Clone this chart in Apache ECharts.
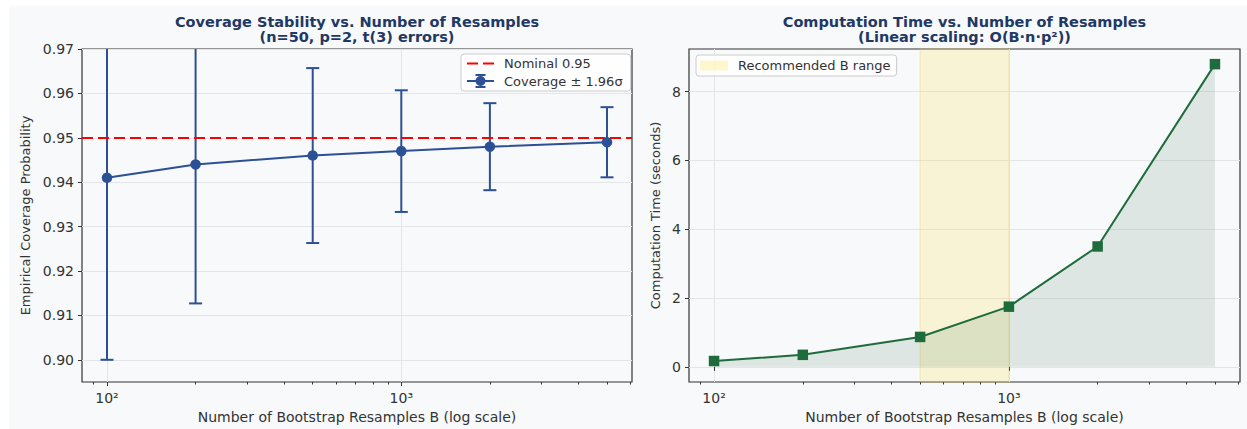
<!DOCTYPE html>
<html><head><meta charset="utf-8">
<script src="https://cdn.jsdelivr.net/npm/echarts@6/dist/echarts.min.js"></script>
<style>
html,body{margin:0;padding:0;background:#fff;width:1247px;height:429px;overflow:hidden}
#bg{position:absolute;left:9px;top:6px;width:1238px;height:423px;background:#f8f9fa}
#chart{position:absolute;left:0;top:0;width:1247px;height:429px}
</style></head><body><div id="bg"></div><div id="chart"></div>
<script>
// ---- data ----
const resamplesB = [100, 200, 500, 1000, 2000, 5000];
const coverage = [0.941, 0.944, 0.946, 0.947, 0.948, 0.949];
const ciHalfWidth = [0.041, 0.0313, 0.0197, 0.0137, 0.0098, 0.0079];
const compTime = [0.17, 0.35, 0.87, 1.75, 3.5, 8.8];
const nominalLevel = 0.95;
const recommendedRange = [500, 1000];
const xMajorTicks = [100, 1000];
const xMinorTicks = [90, 200, 300, 400, 500, 600, 700, 800, 900, 2000, 3000, 4000, 5000, 6000];
const coverageTicks = [0.90, 0.91, 0.92, 0.93, 0.94, 0.95, 0.96, 0.97];
const timeTicks = [0, 2, 4, 6, 8];
const coverageRange = [0.895, 0.97];
const timeRange = [-0.44, 9.24];

// ---- styles ----
const FONT = 'DejaVu Sans';
const BLUE = '#2c5096';
const GREEN = '#1e6b3c';
const RED = '#ff0000';
const TITLE = '#1f3864';
const TXT = '#333333';
const GRIDC = '#e4e5e7';
const SPINE = '#333333';

const lg = v => Math.log10(v);
const lgMin = lg(resamplesB[0]), lgMax = lg(resamplesB[resamplesB.length - 1]);
const pad = 0.05 * (lgMax - lgMin);
const xMin = lgMin - pad, xMax = lgMax + pad;
const SUP = {'2': '\u00b2', '3': '\u00b3', '4': '\u2074'};
const majorLog = xMajorTicks.map(lg);
const minorLog = xMinorTicks.map(lg);

// legend glyphs (dashed line; line + marker + error bar)
const ICON_DASH = 'path://M0,0h11v2h-11z M16,0h11v2h-11z';
const ICON_ERR = 'path://M0,6h27v2h-27z M12.5,0h2v14h-2z M8.5,0h10v2h-10z M8.5,12h10v2h-10z M8.5,7a5,5 0 1,1 10,0a5,5 0 1,1 -10,0z';

function majorX(gridIndex) {
  return {
    type: 'value', gridIndex, position: 'bottom', min: xMin, max: xMax,
    axisLine: {show: false},
    axisTick: {show: true, customValues: majorLog, length: 4, lineStyle: {color: SPINE, width: 1}},
    axisLabel: {customValues: majorLog, margin: 9, fontSize: 14, color: TXT, fontFamily: FONT,
      formatter: v => '10' + SUP[String(Math.round(v))]},
    splitLine: {show: true, lineStyle: {color: GRIDC, width: 1}},
    name: 'Number of Bootstrap Resamples B (log scale)', nameLocation: 'middle', nameGap: 28,
    nameTextStyle: {fontSize: 14, color: TXT, fontFamily: FONT}
  };
}
function minorX(gridIndex) {
  return {
    type: 'value', gridIndex, position: 'bottom', min: xMin, max: xMax,
    axisLine: {show: false},
    axisTick: {show: true, customValues: minorLog, length: 2.5, lineStyle: {color: SPINE, width: 1}},
    axisLabel: {show: false}, splitLine: {show: false}
  };
}
function yAx(gridIndex, range, ticks, fmt, name, gap) {
  return {
    type: 'value', gridIndex, min: range[0], max: range[1],
    axisLine: {show: false},
    axisTick: {show: true, customValues: ticks, length: 4, lineStyle: {color: SPINE, width: 1}},
    axisLabel: {customValues: ticks, formatter: fmt, margin: 8, fontSize: 14, color: TXT, fontFamily: FONT},
    splitLine: {show: true, lineStyle: {color: GRIDC, width: 1}},
    name, nameLocation: 'middle', nameGap: gap,
    nameTextStyle: {fontSize: 13, color: TXT, fontFamily: FONT}
  };
}

const covPts = resamplesB.map((b, i) => [lg(b), coverage[i]]);
const ciPts = resamplesB.map((b, i) => [lg(b), coverage[i] - ciHalfWidth[i], coverage[i] + ciHalfWidth[i]]);
const timePts = resamplesB.map((b, i) => [lg(b), compTime[i]]);

const option = {
  animation: false,
  textStyle: {fontFamily: FONT},
  grid: [
    {left: 82, top: 49, width: 550, height: 334, show: true, borderColor: SPINE, borderWidth: 1.2, backgroundColor: 'transparent'},
    {left: 689, top: 49, width: 551, height: 334, show: true, borderColor: SPINE, borderWidth: 1.2, backgroundColor: 'transparent'}
  ],
  xAxis: [majorX(0), minorX(0), majorX(1), minorX(1)],
  yAxis: [
    yAx(0, coverageRange, coverageTicks, v => Number(v).toFixed(2), 'Empirical Coverage Probability', 50),
    yAx(1, timeRange, timeTicks, v => String(Math.round(v)), 'Computation Time (seconds)', 27)
  ],
  graphic: [
    {type: 'text', x: 357, y: 22, style: {text: 'Coverage Stability vs. Number of Resamples', fill: TITLE, font: 'bold 14.5px "DejaVu Sans"', align: 'center', verticalAlign: 'middle'}},
    {type: 'text', x: 357, y: 37, style: {text: '(n=50, p=2, t(3) errors)', fill: TITLE, font: 'bold 14.5px "DejaVu Sans"', align: 'center', verticalAlign: 'middle'}},
    {type: 'text', x: 964.5, y: 22, style: {text: 'Computation Time vs. Number of Resamples', fill: TITLE, font: 'bold 14.5px "DejaVu Sans"', align: 'center', verticalAlign: 'middle'}},
    {type: 'text', x: 964.5, y: 37, style: {text: '(Linear scaling: O(B\u00b7n\u00b7p\u00b2))', fill: TITLE, font: 'bold 14.5px "DejaVu Sans"', align: 'center', verticalAlign: 'middle'}}
  ],
  legend: [
    {data: [{name: 'Nominal 0.95', icon: ICON_DASH}, {name: 'Coverage \u00b1 1.96\u03c3', icon: ICON_ERR}],
     left: 461, top: 54, orient: 'vertical', symbolKeepAspect: true,
     backgroundColor: 'rgba(255,255,255,0.85)', borderColor: '#cccccc', borderWidth: 1, borderRadius: 3,
     padding: [3, 8, 3, 6], itemGap: 4, itemWidth: 27, itemHeight: 14,
     textStyle: {fontSize: 13, color: TXT, fontFamily: FONT, padding: [0, 0, 0, 5]}},
    {data: ['Recommended B range'], left: 696, top: 55, orient: 'vertical', icon: 'rect',
     backgroundColor: 'rgba(255,255,255,0.85)', borderColor: '#cccccc', borderWidth: 1, borderRadius: 3,
     padding: [4, 6, 4, 4], itemWidth: 28, itemHeight: 10,
     textStyle: {fontSize: 13, color: TXT, fontFamily: FONT, padding: [0, 0, 0, 5]}}
  ],
  series: [
    {name: 'Nominal 0.95', type: 'line', xAxisIndex: 0, yAxisIndex: 0, data: [], symbol: 'none',
     color: RED, lineStyle: {color: RED, type: [11, 5], width: 2},
     markLine: {silent: true, symbol: ['none', 'none'], label: {show: false},
       lineStyle: {color: RED, type: [11, 5], width: 2}, data: [{yAxis: nominalLevel}]}, z: 4},
    {name: 'ci', type: 'custom', xAxisIndex: 0, yAxisIndex: 0, data: ciPts, z: 3,
     encode: {x: 0, y: [1, 2]},
     renderItem: function (params, api) {
       const x = api.value(0), lo = api.value(1), hi = api.value(2);
       const pLo = api.coord([x, lo]), pHi = api.coord([x, hi]);
       const cs = params.coordSys;
       const top = cs.y, bottom = cs.y + cs.height;
       const y1 = Math.min(pLo[1], bottom), y2 = Math.max(pHi[1], top);
       const st = {stroke: BLUE, lineWidth: 2, fill: null};
       const ch = [{type: 'line', shape: {x1: pLo[0], y1: y1, x2: pLo[0], y2: y2}, style: st}];
       const hw = 6.5;
       if (pHi[1] >= top) ch.push({type: 'line', shape: {x1: pHi[0] - hw, y1: pHi[1], x2: pHi[0] + hw, y2: pHi[1]}, style: st});
       if (pLo[1] <= bottom) ch.push({type: 'line', shape: {x1: pLo[0] - hw, y1: pLo[1], x2: pLo[0] + hw, y2: pLo[1]}, style: st});
       return {type: 'group', children: ch};
     }},
    {name: 'Coverage \u00b1 1.96\u03c3', type: 'line', xAxisIndex: 0, yAxisIndex: 0, data: covPts, z: 5,
     color: BLUE, symbol: 'circle', symbolSize: 10.5, showSymbol: true,
     lineStyle: {color: BLUE, width: 2}, itemStyle: {color: BLUE}},
    {name: 'Recommended B range', type: 'line', xAxisIndex: 2, yAxisIndex: 1, data: [], symbol: 'none',
     color: 'rgba(255,215,0,0.2)', itemStyle: {color: 'rgba(255,215,0,0.2)'}, z: 1,
     markArea: {silent: true, itemStyle: {color: 'rgba(255,215,0,0.14)', borderColor: 'rgba(225,200,80,0.35)', borderWidth: 1},
       data: [[{xAxis: lg(recommendedRange[0])}, {xAxis: lg(recommendedRange[1])}]]}},
    {name: 'Computation Time', type: 'line', xAxisIndex: 2, yAxisIndex: 1, data: timePts, z: 5,
     color: GREEN, symbol: 'rect', symbolSize: 10.5, showSymbol: true,
     lineStyle: {color: GREEN, width: 2}, itemStyle: {color: GREEN},
     areaStyle: {color: 'rgba(30,107,60,0.18)', origin: 0}}
  ]
};
const chart = echarts.init(document.getElementById('chart'), null, {renderer: 'svg'});
chart.setOption(option);
</script></body></html>
